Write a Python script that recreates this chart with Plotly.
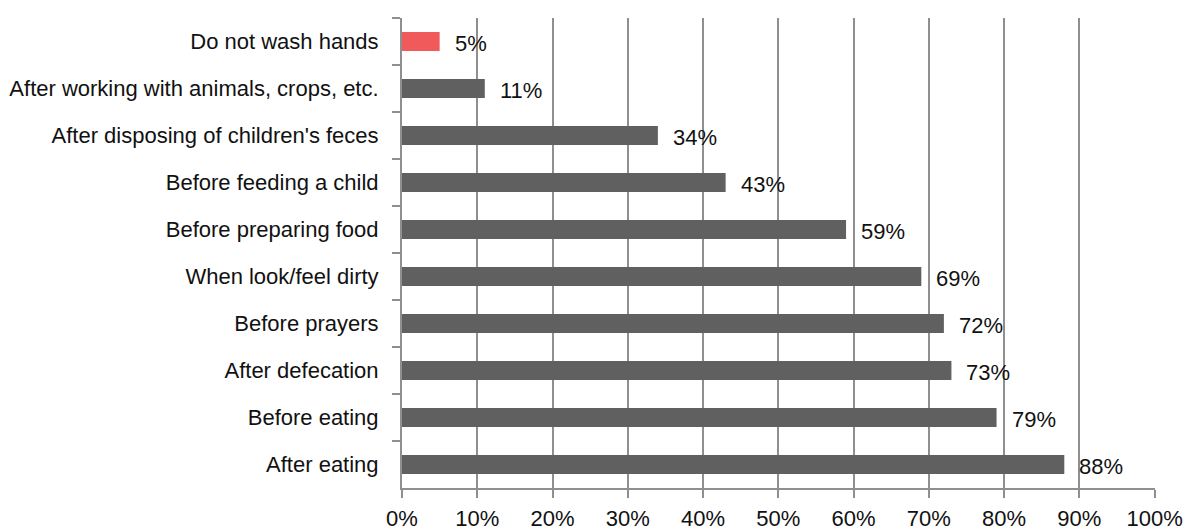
import plotly.graph_objects as go

# Handwashing occasions, listed top to bottom
occasions = [
    "Do not wash hands",
    "After working with animals, crops, etc.",
    "After disposing of children's feces",
    "Before feeding a child",
    "Before preparing food",
    "When look/feel dirty",
    "Before prayers",
    "After defecation",
    "Before eating",
    "After eating",
]
shares = [5, 11, 34, 43, 59, 69, 72, 73, 79, 88]  # percent of respondents
x_ticks = [0, 10, 20, 30, 40, 50, 60, 70, 80, 90, 100]

GREY_BAR = "#606060"
RED_BAR = "#f05a5a"
LINE = "#8f8f8f"
FONT = "Liberation Sans, Arial, sans-serif"

values = [v / 100 for v in shares]
colors = [RED_BAR if c == "Do not wash hands" else GREY_BAR for c in occasions]

fig = go.Figure(
    go.Bar(
        x=values,
        y=occasions,
        orientation="h",
        marker=dict(color=colors, line=dict(width=0)),
        width=0.4,
        hoverinfo="skip",
    )
)

# value labels just past the end of each bar
for cat, v, s in zip(occasions, values, shares):
    fig.add_annotation(
        x=v, y=cat, text=f"{s}%", showarrow=False,
        xanchor="left", yanchor="middle", xshift=13, yshift=-2,
        font=dict(family=FONT, size=22, color="#111111"),
    )

fig.update_layout(
    width=1185, height=530,
    margin=dict(l=402, r=30, t=18, b=41.5, pad=0),
    paper_bgcolor="white", plot_bgcolor="white",
    showlegend=False,
    font=dict(family=FONT, size=22, color="#111111"),
    bargap=0.6,
)

fig.update_xaxes(
    range=[0, 1.0005],
    tickvals=[t / 100 for t in x_ticks],
    ticktext=[f"{t}%" for t in x_ticks],
    showgrid=True, gridcolor=LINE, gridwidth=2,
    zeroline=False,
    showline=True, linecolor=LINE, linewidth=2,
    ticks="outside", ticklen=8, tickwidth=2, tickcolor=LINE,
    ticklabelstandoff=2,
    tickfont=dict(family=FONT, size=22, color="#111111"),
    automargin=False,
    fixedrange=True,
)

fig.update_yaxes(
    categoryorder="array",
    categoryarray=occasions,
    autorange="reversed",
    showgrid=False,
    showline=True, linecolor=LINE, linewidth=2,
    ticks="outside", ticklen=8, tickwidth=2, tickcolor=LINE,
    tickson="boundaries",
    ticklabelstandoff=17,
    tickfont=dict(family=FONT, size=22, color="#111111"),
    automargin=False,
    fixedrange=True,
)

fig.write_html("out.html")
